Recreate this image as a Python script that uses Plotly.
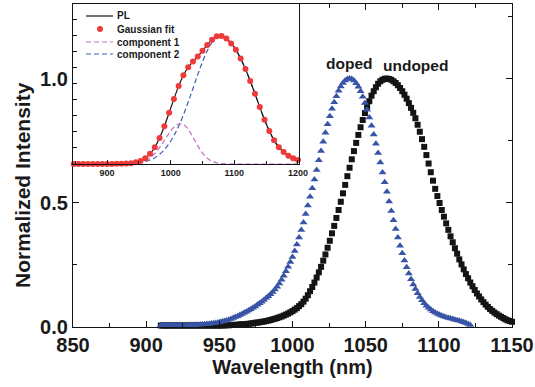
import plotly.graph_objects as go

# ---------------- main panel data ----------------
wl_undoped = [910 + 1.5 * k for k in range(161)]
undoped = [
    0.006, 0.006, 0.006, 0.006, 0.006, 0.006, 0.006, 0.006, 0.006, 0.006,   # 910-923.5
    0.006, 0.006, 0.006, 0.006, 0.006, 0.006, 0.006, 0.006, 0.006, 0.006,   # 925-938.5
    0.006, 0.006, 0.006, 0.006, 0.006, 0.006, 0.006, 0.006, 0.006,          # 940-952
    0.007, 0.007, 0.007, 0.008, 0.008, 0.009, 0.009, 0.010, 0.011, 0.011,   # 953.5-967
    0.012, 0.013, 0.014, 0.015, 0.017, 0.018, 0.019, 0.021, 0.022, 0.024,   # 968.5-982
    0.026, 0.028, 0.031, 0.033, 0.036, 0.039, 0.042, 0.046, 0.050, 0.054,   # 983.5-997
    0.059, 0.064, 0.070, 0.076, 0.084, 0.092, 0.102, 0.114, 0.128, 0.144,   # 998.5-1012
    0.161, 0.179, 0.199, 0.220, 0.242, 0.267, 0.292, 0.319, 0.347, 0.377,   # 1013.5-1027
    0.407, 0.439, 0.471, 0.504, 0.538, 0.572, 0.607, 0.641, 0.675, 0.708,   # 1028.5-1042
    0.741, 0.773, 0.804, 0.833, 0.861, 0.886, 0.909, 0.931, 0.949, 0.965,   # 1043.5-1057
    0.979, 0.989, 0.995, 0.999, 1.000, 0.998, 0.995, 0.989, 0.982, 0.973,   # 1058.5-1072
    0.962, 0.949, 0.935, 0.919, 0.901, 0.882, 0.862, 0.840, 0.814, 0.786,   # 1073.5-1087
    0.756, 0.725, 0.692, 0.658, 0.623, 0.589, 0.556, 0.527, 0.499, 0.471,   # 1088.5-1102
    0.444, 0.417, 0.391, 0.365, 0.341, 0.317, 0.295, 0.272, 0.252, 0.232,   # 1103.5-1117
    0.213, 0.196, 0.179, 0.164, 0.149, 0.135, 0.123, 0.111, 0.100, 0.090,   # 1118.5-1132
    0.081, 0.072, 0.065, 0.058, 0.052, 0.046, 0.041, 0.036, 0.031, 0.027,   # 1133.5-1147
    0.024, 0.021,                                                            # 1148.5-1150
]

wl_doped = [910 + 1.5 * k for k in range(142)]
doped = [
    0.007, 0.007, 0.007, 0.007, 0.007, 0.007, 0.007, 0.007, 0.007, 0.007,   # 910-923.5
    0.007, 0.007, 0.007,                                                     # 925-928
    0.008, 0.008, 0.008, 0.009, 0.009, 0.010, 0.010, 0.011, 0.012, 0.012,   # 929.5-943
    0.014, 0.015, 0.016, 0.018, 0.020, 0.022, 0.024, 0.026, 0.029, 0.032,   # 944.5-958
    0.036, 0.040, 0.043, 0.048, 0.052, 0.057, 0.061, 0.066, 0.071, 0.077,   # 959.5-973
    0.083, 0.090, 0.096, 0.102, 0.109, 0.117, 0.124, 0.132, 0.141, 0.151,   # 974.5-988
    0.162, 0.175, 0.190, 0.206, 0.224, 0.242, 0.262, 0.282, 0.306, 0.332,   # 989.5-1003
    0.360, 0.390, 0.421, 0.455, 0.489, 0.524, 0.558, 0.594, 0.632, 0.671,   # 1004.5-1018
    0.708, 0.746, 0.782, 0.816, 0.848, 0.878, 0.905, 0.929, 0.951, 0.968,   # 1019.5-1033
    0.982, 0.992, 0.998, 1.000, 0.998, 0.992, 0.981, 0.967, 0.949, 0.927,   # 1034.5-1048
    0.902, 0.874, 0.843, 0.810, 0.775, 0.738, 0.700, 0.662, 0.622, 0.583,   # 1049.5-1063
    0.544, 0.505, 0.467, 0.430, 0.394, 0.360, 0.327, 0.297, 0.268, 0.240,   # 1064.5-1078
    0.215, 0.192, 0.171, 0.153, 0.136, 0.121, 0.108, 0.096, 0.086, 0.077,   # 1079.5-1093
    0.070, 0.063, 0.058, 0.053, 0.049, 0.045, 0.042, 0.039, 0.036, 0.034,   # 1094.5-1108
    0.032, 0.029, 0.027, 0.025, 0.022, 0.019, 0.016, 0.012, 0.008,          # 1109.5-1121.5
]
assert len(undoped) == len(wl_undoped)
assert len(doped) == len(wl_doped)

# ---------------- inset data ----------------
wl_inset = [847.5 + 7.5 * i for i in range(48)]
pl = [
    0, 0, 0, 0, 0, 0, 0, 0, 0,
    0.001, 0.001, 0.003, 0.006, 0.013, 0.024, 0.045, 0.079, 0.131, 0.203,
    0.294, 0.399, 0.506, 0.607, 0.692, 0.754, 0.798, 0.838, 0.882, 0.928,
    0.969, 0.995, 0.998, 0.978, 0.940, 0.890, 0.822, 0.740, 0.647, 0.548,
    0.444, 0.345, 0.258, 0.186, 0.131, 0.093, 0.065, 0.045, 0.031,
]
gauss_fit = [
    0, 0, 0, 0, 0, 0, 0, 0, 0,
    0.001, 0.001, 0.003, 0.006, 0.013, 0.024, 0.045, 0.079, 0.131, 0.203,
    0.294, 0.399, 0.506, 0.607, 0.692, 0.754, 0.798, 0.838, 0.882, 0.928,
    0.969, 0.995, 0.998, 0.978, 0.940, 0.890, 0.822, 0.740, 0.647, 0.548,
    0.444, 0.345, 0.258, 0.186, 0.131, 0.093, 0.065, 0.045, 0.031,
]
component1 = [
    0, 0, 0, 0, 0, 0, 0, 0, 0, 0, 0,
    0.001, 0.002, 0.006, 0.013, 0.026, 0.048, 0.082, 0.128, 0.183, 0.240,
    0.286, 0.312, 0.309, 0.271, 0.209, 0.142, 0.085, 0.045, 0.021, 0.008,
    0.003, 0.001,
    0, 0, 0, 0, 0, 0, 0, 0, 0, 0, 0, 0, 0, 0, 0,
]
component2 = [
    0, 0, 0, 0, 0, 0, 0, 0, 0,
    0.001, 0.001, 0.002, 0.004, 0.007, 0.011, 0.019, 0.031, 0.049, 0.075,
    0.111, 0.159, 0.220, 0.295, 0.383, 0.483, 0.589, 0.696, 0.797, 0.883,
    0.948, 0.987, 0.995, 0.977, 0.940, 0.890, 0.822, 0.740, 0.647, 0.548,
    0.444, 0.345, 0.258, 0.186, 0.131, 0.093, 0.065, 0.045, 0.031,
]

FONT = "Liberation Sans, Arial, Helvetica, sans-serif"
BLUE = "#3854a6"
BLACK = "#141414"
RED = "#ef3a3a"
MAGENTA = "#c46cc4"
DBLUE = "#3f5fb5"

fig = go.Figure()

# main curves
fig.add_trace(go.Scatter(x=wl_undoped, y=undoped, mode="markers", name="undoped",
                         marker=dict(symbol="square", size=6, color=BLACK),
                         cliponaxis=False, showlegend=False))
fig.add_trace(go.Scatter(x=wl_doped, y=doped, mode="markers", name="doped",
                         marker=dict(symbol="triangle-up", size=7, color=BLUE),
                         cliponaxis=False, showlegend=False))

# inset curves
fig.add_trace(go.Scatter(x=wl_inset, y=component1, mode="lines", xaxis="x2", yaxis="y2",
                         line=dict(color=MAGENTA, width=1.2, dash="5px,3px", shape="spline"),
                         showlegend=False))
fig.add_trace(go.Scatter(x=wl_inset, y=component2, mode="lines", xaxis="x2", yaxis="y2",
                         line=dict(color=DBLUE, width=1.2, dash="5px,3px", shape="spline"),
                         showlegend=False))
fig.add_trace(go.Scatter(x=wl_inset, y=pl, mode="lines", xaxis="x2", yaxis="y2",
                         line=dict(color=BLACK, width=1.2, shape="spline"),
                         showlegend=False))
fig.add_trace(go.Scatter(x=wl_inset, y=gauss_fit, mode="markers", xaxis="x2", yaxis="y2",
                         marker=dict(color=RED, size=6),
                         cliponaxis=False, showlegend=False))

# ---------------- layout ----------------
L, R, T, B = 73, 23, 4, 60
W, H = 535, 387
PW, PH = W - L - R, H - T - B


def px2paper(px, py):
    return (px - L) / PW, (H - B - py) / PH


inset_right = 299
inset_bottom = 164
ix1, _ = px2paper(inset_right, 0)
_, iy0 = px2paper(0, inset_bottom)

axis_common = dict(showline=True, linecolor=BLACK, linewidth=1.3, ticks="inside",
                   tickcolor=BLACK, tickwidth=1.3, showgrid=False, zeroline=False,
                   automargin=False)

fig.update_layout(
    width=W, height=H,
    margin=dict(l=L, r=R, t=T, b=B, autoexpand=False),
    paper_bgcolor="white", plot_bgcolor="white",
    font=dict(family=FONT, color="#1a1a1a"),
    xaxis=dict(range=[850, 1150], tickvals=[850, 900, 950, 1000, 1050, 1100, 1150],
               ticklen=6, mirror="ticks",
               minor=dict(dtick=25, ticks="inside", ticklen=4, tickcolor=BLACK, tickwidth=1.3),
               tickfont=dict(size=20, family=FONT, weight="bold"),
               title=dict(text="Wavelength (nm)", font=dict(size=20, family=FONT, weight="bold"),
                          standoff=2),
               **axis_common),
    yaxis=dict(range=[0, 1.3], tickvals=[0, 0.5, 1.0], ticktext=["0.0", "0.5", "1.0"],
               ticklen=6, mirror="ticks",
               minor=dict(dtick=0.25, ticks="inside", ticklen=4, tickcolor=BLACK, tickwidth=1.3),
               tickfont=dict(size=20, family=FONT, weight="bold"),
               **axis_common),
    xaxis2=dict(domain=[0, ix1], anchor="y2", range=[846.4, 1201.7],
                tickvals=[900, 1000, 1100, 1200], ticklen=4, mirror=True,
                minor=dict(dtick=50, ticks="inside", ticklen=3, tickcolor=BLACK, tickwidth=1),
                tickfont=dict(size=9, family=FONT, weight="bold"),
                **axis_common),
    yaxis2=dict(domain=[iy0, 1], anchor="x2", range=[0, 1.247], dtick=0.125,
                showticklabels=False, ticklen=4, mirror=True,
                **axis_common),
)

# y-axis title (placed as rotated text to match the reference position)
tx, ty = px2paper(22, 185)
fig.add_annotation(x=tx, y=ty, xref="paper", yref="paper", text="<b>Normalized Intensity</b>",
                   textangle=-90, showarrow=False, xanchor="center", yanchor="middle",
                   font=dict(size=21, family=FONT, color="#1a1a1a"))

# peak labels
fig.add_annotation(x=1039.2, y=1.062, text="<b>doped</b>", showarrow=False,
                   font=dict(size=15.5, family=FONT, color="#1a1a1a"))
fig.add_annotation(x=1083.8, y=1.054, text="<b>undoped</b>", showarrow=False,
                   font=dict(size=15.5, family=FONT, color="#1a1a1a"))

# inset legend (drawn as decorations in pixel-derived paper coords)
legend_rows = [("PL", 16), ("Gaussian fit", 29), ("component 1", 42), ("component 2", 54)]
for text, py in legend_rows:
    tx, ty = px2paper(115, py)
    fig.add_annotation(x=tx, y=ty, xref="paper", yref="paper", text="<b>" + text + "</b>",
                       showarrow=False, xanchor="left", yanchor="middle",
                       font=dict(size=10, family=FONT, color="#1a1a1a"))

x0p, _ = px2paper(86, 0)
x1p, _ = px2paper(113, 0)
for py, col, dash in [(16, BLACK, "solid"), (42, MAGENTA, "5px,3px"), (54, DBLUE, "5px,3px")]:
    _, yp = px2paper(0, py)
    fig.add_shape(type="line", xref="paper", yref="paper", x0=x0p, x1=x1p, y0=yp, y1=yp,
                  line=dict(color=col, width=1.2, dash=dash))
cx, cy = px2paper(100, 29)
fig.add_shape(type="circle", xref="paper", yref="paper",
              x0=cx - 3 / PW, x1=cx + 3 / PW, y0=cy - 3 / PH, y1=cy + 3 / PH,
              fillcolor=RED, line=dict(color=RED, width=0))

fig.write_html("out.html", config={"displayModeBar": False},
               post_script="document.body.style.margin='0';document.body.style.overflow='hidden';")
